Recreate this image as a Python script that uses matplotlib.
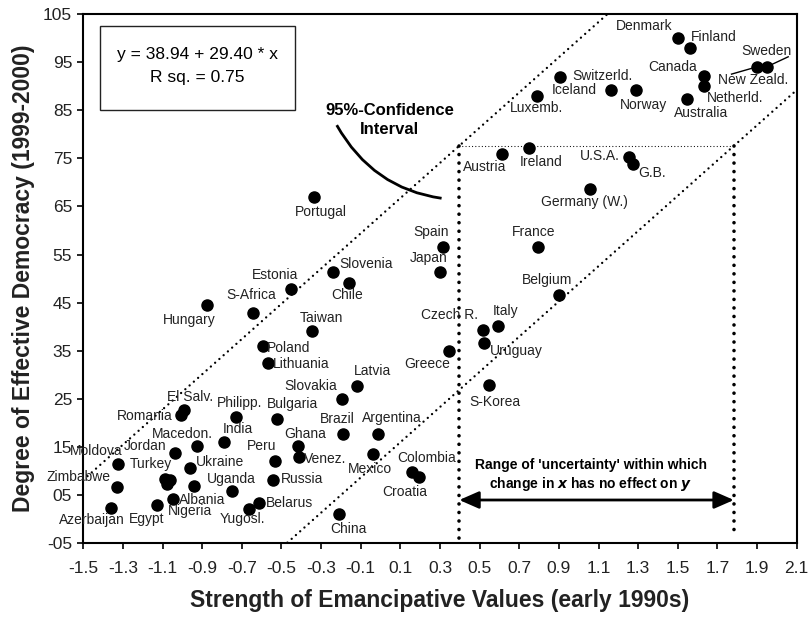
import numpy as np
import matplotlib
matplotlib.use("Agg")
import matplotlib.pyplot as plt
from matplotlib.path import Path
from matplotlib.patches import PathPatch, Rectangle

plt.rcParams["font.family"] = ["Liberation Sans", "DejaVu Sans"]

# country dots (x = emancipative values, y = effective democracy)
countries = [
    "Denmark", "Finland", "Sweden", "New Zeald.", "Canada", "Netherld.", "Australia",
    "Switzerld.", "Luxemb.", "Iceland", "Norway", "Austria", "Ireland", "U.S.A.", "G.B.",
    "Germany (W.)", "France", "Spain", "Japan", "Belgium", "Czech R.", "Italy", "Uruguay",
    "Greece", "S-Korea", "Portugal", "Slovenia", "Chile", "Estonia", "Hungary", "S-Africa",
    "Taiwan", "Poland", "Lithuania", "Latvia", "Slovakia", "El Salv.", "Romania", "Philipp.",
    "Bulgaria", "Brazil", "Argentina", "India", "Macedon.", "Ghana", "Jordan", "Mexico",
    "Venez.", "Peru", "Moldova", "Ukraine", "Colombia", "Croatia", "Turkey", "", "",
    "Russia", "Zimbabwe", "Albania", "Uganda", "Nigeria", "Belarus", "Yugosl.", "Egypt",
    "Azerbaijan", "China",
]
x_vals = [
    1.502, 1.561, 1.948, 1.898, 1.633, 1.633, 1.544,
    0.905, 0.791, 1.162, 1.287, 0.614, 0.749, 1.253, 1.275,
    1.056, 0.796, 0.313, 0.300, 0.902, 0.518, 0.591, 0.523,
    0.347, 0.548, -0.334, -0.239, -0.159, -0.454, -0.877, -0.645,
    -0.345, -0.592, -0.570, -0.120, -0.193, -0.992, -1.009, -0.731,
    -0.521, -0.188, -0.012, -0.790, -0.928, -0.415, -1.039, -0.040,
    -0.412, -0.533, -1.327, -0.962, 0.157, 0.195, -1.088, -1.062, -1.079,
    -0.541, -1.330, -0.940, -0.748, -1.049, -0.612, -0.664, -1.127,
    -1.361, -0.210,
]
y_vals = [
    100.1, 98.0, 94.0, 94.0, 92.1, 90.0, 87.3,
    92.0, 88.0, 89.2, 89.2, 76.0, 77.1, 75.2, 73.75,
    68.6, 56.6, 56.6, 51.4, 46.7, 39.3, 40.2, 36.7,
    34.9, 27.9, 67.0, 51.4, 49.1, 47.8, 44.6, 42.9,
    39.1, 36.0, 32.5, 27.7, 25.0, 22.7, 21.6, 21.3,
    20.8, 17.8, 17.8, 16.0, 15.2, 15.25, 13.8, 13.5,
    13.0, 12.1, 11.4, 10.6, 9.85, 8.8, 8.3, 8.1, 7.4,
    8.1, 6.7, 6.9, 5.9, 4.2, 3.3, 2.2, 3.0,
    2.3, 1.0,
]

# where each country name sits (text centre)
label_pos = {
    "Denmark": (1.329, 102.4), "Finland": (1.682, 100.2), "Sweden": (1.948, 97.4),
    "Canada": (1.472, 94.0), "New Zeald.": (1.880, 91.3), "Netherld.": (1.788, 87.5),
    "Australia": (1.620, 84.4), "Switzerld.": (1.120, 92.1), "Iceland": (0.977, 89.3),
    "Luxemb.": (0.788, 85.4), "Norway": (1.329, 86.1), "Austria": (0.527, 73.3),
    "Ireland": (0.808, 74.3), "U.S.A.": (1.107, 75.5), "G.B.": (1.371, 72.0),
    "Germany (W.)": (1.031, 66.0), "France": (0.770, 59.7), "Spain": (0.256, 59.7),
    "Japan": (0.244, 54.2), "Belgium": (0.838, 49.7), "Portugal": (-0.301, 63.9),
    "Slovenia": (-0.075, 53.0), "Estonia": (-0.533, 50.7), "S-Africa": (-0.655, 46.6),
    "Chile": (-0.171, 46.6), "Hungary": (-0.965, 41.5), "Taiwan": (-0.297, 41.9),
    "Poland": (-0.466, 35.5), "Lithuania": (-0.398, 32.2), "Latvia": (-0.042, 30.8),
    "Slovakia": (-0.353, 27.7), "El Salv.": (-0.962, 25.4), "Romania": (-1.189, 21.5),
    "Philipp.": (-0.709, 24.2), "Bulgaria": (-0.444, 23.9), "Brazil": (-0.218, 20.9),
    "Argentina": (0.059, 21.1), "India": (-0.718, 18.7), "Macedon.": (-1.0, 17.8),
    "Ghana": (-0.381, 17.8), "Jordan": (-1.189, 15.3), "Moldova": (-1.437, 14.2),
    "Peru": (-0.600, 15.2), "Venez.": (-0.280, 12.6), "Ukraine": (-0.810, 11.9),
    "Turkey": (-1.161, 11.4), "Mexico": (-0.053, 10.5), "Colombia": (0.233, 12.8),
    "Zimbabwe": (-1.525, 8.8), "Russia": (-0.398, 8.3), "Uganda": (-0.751, 8.3),
    "Croatia": (0.123, 5.7), "Albania": (-0.901, 4.0), "Belarus": (-0.461, 3.4),
    "Nigeria": (-0.962, 1.7), "Egypt": (-1.180, 0.0), "Azerbaijan": (-1.458, -0.2),
    "Yugosl.": (-0.699, 0.0), "China": (-0.163, -2.1), "Czech R.": (0.350, 42.4),
    "Italy": (0.631, 43.3), "Uruguay": (0.687, 35.0), "Greece": (0.233, 32.2),
    "S-Korea": (0.577, 24.3),
}

x_ticks = np.round(np.arange(-1.5, 2.11, 0.2), 1)
y_ticks = [105, 95, 85, 75, 65, 55, 45, 35, 25, 15, 5, -5]
y_tick_labels = ["105", "95", "85", "75", "65", "55", "45", "35", "25", "15", "05", "-05"]

# confidence band (straight dotted lines) and the "uncertainty" box
band_slope = 36.6
band_top_y = 77.6
band_left_x = 0.397
band_right_x = 1.783

fig = plt.figure(figsize=(8.1, 6.21), dpi=100)
ax = fig.add_axes([0.1028, 0.1251, 0.8808, 0.8524])
ax.set_xlim(-1.5, 2.1)
ax.set_ylim(-5, 105)

xx = np.array([-1.5, 2.1])
ax.plot(xx, band_top_y + band_slope * (xx - band_left_x), color="black", lw=1.7,
        linestyle=(0, (0.01, 2.4)), dash_capstyle="round", zorder=2)
ax.plot(xx, band_top_y + band_slope * (xx - band_right_x), color="black", lw=1.7,
        linestyle=(0, (0.01, 2.4)), dash_capstyle="round", zorder=2)

ax.plot([band_left_x, band_right_x], [band_top_y, band_top_y], color="black", lw=0.9,
        linestyle=(0, (0.01, 2.6)), dash_capstyle="round", zorder=2)
ax.plot([band_left_x, band_left_x], [band_top_y, -5], color="black", lw=2.6,
        linestyle=(0, (0.01, 2.35)), dash_capstyle="round", zorder=2)
ax.plot([band_right_x, band_right_x], [band_top_y, -3.7], color="black", lw=2.6,
        linestyle=(0, (0.01, 2.35)), dash_capstyle="round", zorder=2)

ax.plot(x_vals, y_vals, "o", color="black", markersize=8, zorder=4, clip_on=False)

for name, (tx, ty) in label_pos.items():
    ax.text(tx, ty, name, fontsize=10, ha="center", va="center", color="#222222",
            zorder=5, clip_on=False)

# leader lines for Sweden / New Zealand
ax.plot([2.057, 1.948], [96.1, 94.0], color="black", lw=1.0, zorder=3)
ax.plot([1.771, 1.898], [92.5, 94.0], color="black", lw=1.0, zorder=3)

# regression equation box
ax.add_patch(Rectangle((-1.416, 85.0), 0.984, 17.4, fill=False, lw=1.0,
                       edgecolor="#222222", zorder=3))
ax.text(-0.924, 96.6, "y = 38.94 + 29.40 * x", fontsize=12.5, ha="center", va="center")
ax.text(-0.924, 91.7, "R sq. = 0.75", fontsize=12.5, ha="center", va="center")

# confidence interval note with curved pointer
ax.text(0.047, 85.0, "95%-Confidence", fontsize=12, fontweight="bold",
        ha="center", va="center")
ax.text(0.047, 80.9, "Interval", fontsize=12, fontweight="bold",
        ha="center", va="center")
curve = Path([(-0.221, 81.9), (-0.04, 68.7), (0.308, 66.7)],
             [Path.MOVETO, Path.CURVE3, Path.CURVE3])
ax.add_patch(PathPatch(curve, fill=False, lw=2.0, edgecolor="black", zorder=3))

# range of uncertainty arrow
ax.annotate("", xy=(band_right_x, 4.0), xytext=(band_left_x, 4.0),
            arrowprops=dict(arrowstyle="<|-|>,head_length=0.8,head_width=0.35",
                            mutation_scale=15, lw=2.0, color="black",
                            shrinkA=0, shrinkB=0), zorder=3)
ax.text(1.06, 11.2, "Range of 'uncertainty' within which", fontsize=10,
        fontweight="bold", ha="center", va="center")
ax.text(1.06, 7.3, "change in $\\boldsymbol{x}$ has no effect on $\\boldsymbol{y}$",
        fontsize=10, fontweight="bold", ha="center", va="center")

ax.set_xticks(x_ticks)
ax.set_xticklabels([f"{v:.1f}" for v in x_ticks])
ax.set_yticks(y_ticks)
ax.set_yticklabels(y_tick_labels)
ax.tick_params(axis="x", direction="out", length=4, width=1.2, pad=9, labelsize=12.5,
               labelcolor="#222222")
ax.tick_params(axis="y", direction="out", length=4, width=1.2, pad=4, labelsize=12.5,
               labelcolor="#222222")
for sp in ax.spines.values():
    sp.set_linewidth(1.5)

ax.set_xlabel("Strength of Emancipative Values (early 1990s)", fontsize=16.5,
              fontweight="bold", labelpad=9, color="#222222")
ax.set_ylabel("Degree of Effective Democracy (1999-2000)", fontsize=16.5,
              fontweight="bold", labelpad=6, color="#222222")

fig.savefig("out.png", dpi=100)
